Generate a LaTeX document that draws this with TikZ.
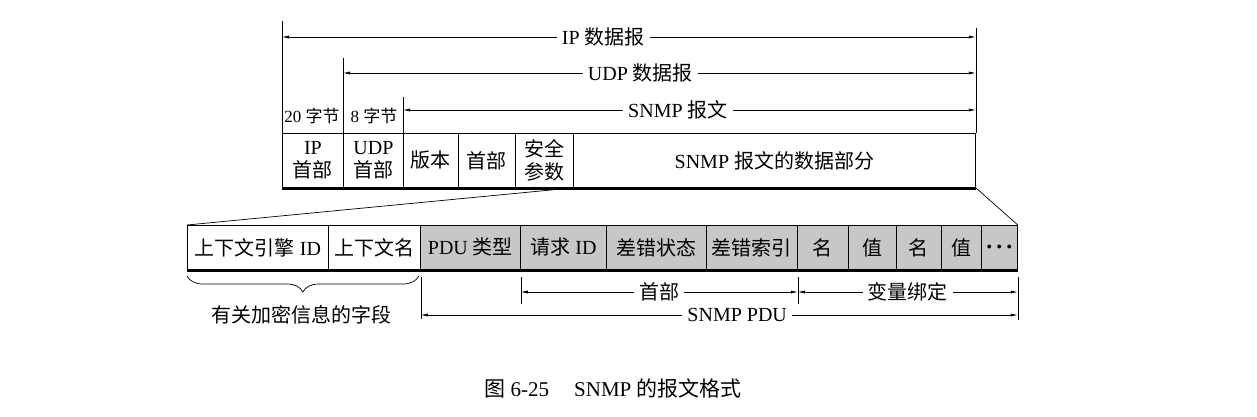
\documentclass[tikz,border=0pt]{standalone}
\usepackage{fontspec}
\setmainfont{Liberation Serif}
\newfontfamily\cjk{Noto Sans CJK SC}
\newcommand\zhtxt[1]{{\cjk #1}}
\usetikzlibrary{arrows.meta,decorations.pathreplacing}
\begin{document}
\begin{tikzpicture}[x=1pt, y=-1pt, >={Latex[length=7pt,width=3pt]}, line join=round,
		font=\fontsize{20}{23}\selectfont,
		cell/.style={draw, line width=0.8pt, anchor=north west, inner sep=0pt, align=center},
		dim/.style={<->, line width=0.6pt},
		lab/.style={fill=white, inner xsep=5pt, inner ysep=1pt}]
	\useasboundingbox (0,0) rectangle (1257,417);
	% upper row
	\foreach \n/\a/\b/\t in {ip/282/343/{IP\\\zhtxt{首部}}, udp/343/403/{UDP\\\zhtxt{首部}},
		ver/403/458/\zhtxt{版本}, hdr/458/515/\zhtxt{首部}, sec/515/573/{\zhtxt{安全}\\\zhtxt{参数}},
		data/573/975/{SNMP \zhtxt{报文的数据部分}}}{
		\node [cell, minimum width={(\b-\a)*1pt}, minimum height=54pt] (\n) at (\a,133) {\t};
	}
	\draw [line width=1.6pt] ([yshift=-1pt]ip.south west) -- ([yshift=-1pt]data.south east);
	% lower row
	\foreach \n/\a/\b/\t/\s in {eng/187/328/{\zhtxt{上下文引擎} ID}/white, name/328/420/\zhtxt{上下文名}/white,
		type/420/520/{PDU \zhtxt{类型}}/black!22, req/520/606/{\zhtxt{请求} ID}/black!22,
		stat/606/706/\zhtxt{差错状态}/black!22, idx/706/797/\zhtxt{差错索引}/black!22,
		nmA/797/848/\zhtxt{名}/black!22, valA/848/896/\zhtxt{值}/black!22,
		nmB/896/941/\zhtxt{名}/black!22, valB/941/981/\zhtxt{值}/black!22,
		more/981/1017/{\fontsize{10}{10}\selectfont$\bullet\;\bullet\;\bullet$}/black!22}{
		\node [cell, fill=\s, minimum width={(\b-\a)*1pt}, minimum height=44pt] (\n) at (\a,225) {\t};
	}
	\draw [line width=1.6pt] ([yshift=-1pt]eng.south west) -- ([yshift=-1pt]more.south east);
	% zoom lines
	\draw [line width=0.7pt] (sec.south east) -- (eng.north west) (data.south east) -- (more.north east);
	% lengths above
	\draw [line width=0.6pt] (ip.north west) -- (ip.north west |- 0,21)
		(udp.north west) -- (udp.north west |- 0,58)
		(ver.north west) -- (ver.north west |- 0,97)
		(data.north east) -- (data.north east |- 0,28);
	\draw [dim] (ip.north west |- 0,37) -- node [lab, pos=.463] {IP \zhtxt{数据报}} (data.north east |- 0,37);
	\draw [dim] (udp.north west |- 0,73) -- node [lab, pos=.47] {UDP \zhtxt{数据报}} (data.north east |- 0,73);
	\draw [dim] (ver.north west |- 0,110) -- node [lab, pos=.48] {SNMP \zhtxt{报文}} (data.north east |- 0,110);
	\node [font=\fontsize{17}{20}\selectfont] (ipLen) at (312,116) {20 \zhtxt{字节}};
	\node [font=\fontsize{17}{20}\selectfont] (udpLen) at (374,116) {8 \zhtxt{字节}};
	% lengths below
	\draw [line width=0.6pt] (name.south east |- 0,277) -- (name.south east |- 0,319)
		(type.south east |- 0,277) -- (type.south east |- 0,304)
		(idx.south east |- 0,277) -- (idx.south east |- 0,304)
		(more.south east |- 0,277) -- (more.south east |- 0,320);
	\draw [dim] (type.south east |- 0,292) -- node [lab] {\zhtxt{首部}} (idx.south east |- 0,292);
	\draw [dim] (idx.south east |- 0,292) -- node [lab] {\zhtxt{变量绑定}} (more.south east |- 0,292);
	\draw [dim] (name.south east |- 0,315) -- node [lab, pos=.53] {SNMP PDU} (more.south east |- 0,315);
	\draw [line width=0.7pt, decorate, decoration={brace, mirror, amplitude=16pt}]
		(eng.south west |- 0,276) -- ([xshift=-2pt]name.south east |- 0,276);
	\node (crypt) at (301,315) {\zhtxt{有关加密信息的字段}};
	% caption
	\node [font=\fontsize{21}{24}\selectfont] (cap) at (613,388) {\zhtxt{图} 6-25\hspace{1.2em}SNMP \zhtxt{的报文格式}};
\end{tikzpicture}
\end{document}
